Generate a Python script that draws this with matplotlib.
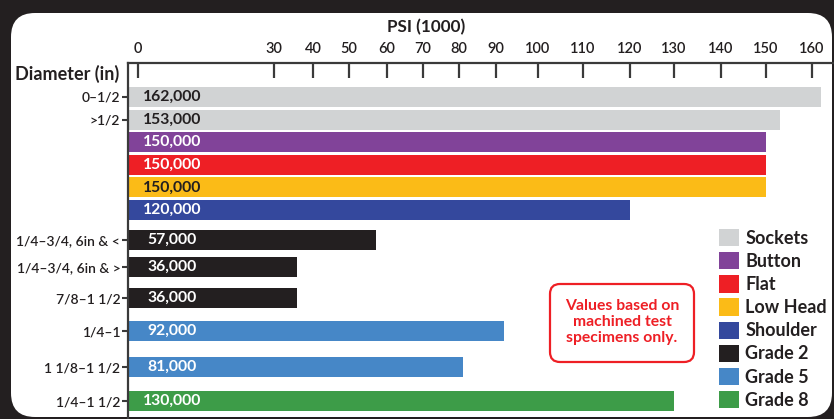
import numpy as np
import matplotlib
matplotlib.use("Agg")
import matplotlib.pyplot as plt
from matplotlib.patches import FancyBboxPatch, Patch
from matplotlib.transforms import IdentityTransform, blended_transform_factory

plt.rcParams['font.family'] = ['Lato', 'DejaVu Sans']

# tensile strength, thousands of psi, one bar per row from top to bottom
diameters = ['0–1/2', '>1/2', '', '', '', '',
             '1/4–3/4, 6in & <', '1/4–3/4, 6in & >', '7/8–1 1/2',
             '1/4–1', '1 1/8–1 1/2', '1/4–1 1/2']
psi_k = [162, 153, 150, 150, 150, 120, 57, 36, 36, 92, 81, 130]
kinds = ['Sockets', 'Sockets', 'Button', 'Flat', 'Low Head', 'Shoulder',
         'Grade 2', 'Grade 2', 'Grade 2', 'Grade 5', 'Grade 5', 'Grade 8']

legend_names = ['Sockets', 'Button', 'Flat', 'Low Head', 'Shoulder',
                'Grade 2', 'Grade 5', 'Grade 8']
colors = {'Sockets': '#d1d3d4', 'Button': '#814399', 'Flat': '#ee1f25',
          'Low Head': '#fbbb17', 'Shoulder': '#34489d', 'Grade 2': '#231f20',
          'Grade 5': '#4687c7', 'Grade 8': '#3d9c48'}
dark_text = {'Sockets', 'Low Head'}

psi_ticks = [0, 30, 40, 50, 60, 70, 80, 90, 100, 110, 120, 130, 140, 150, 160]

# the printed axis is hand-spaced, so the scale is piecewise linear
tick_px = np.array([138, 274, 313, 349, 387, 423, 459, 496, 538, 583,
                    630, 674, 721, 766, 812], float)
tick_val = np.array(psi_ticks, float)


def _pw(v, xs, ys):
    v = np.asarray(v, float)
    out = np.interp(v, xs, ys)
    s0 = (ys[1] - ys[0]) / (xs[1] - xs[0])
    s1 = (ys[-1] - ys[-2]) / (xs[-1] - xs[-2])
    out = np.where(v < xs[0], ys[0] + (v - xs[0]) * s0, out)
    out = np.where(v > xs[-1], ys[-1] + (v - xs[-1]) * s1, out)
    return out


def fwd(v):
    return _pw(v, tick_val, tick_px)


def inv(p):
    return _pw(p, tick_px, tick_val)


# vertical spacing between rows (row units)
row_gaps = [1, 1, 1, 1, 1, 1.33, 1.2, 1.37, 1.46, 1.6, 1.5]
rows = np.concatenate([[0], np.cumsum(row_gaps)])

ink = '#231f20'
W, H = 834, 419
fig = plt.figure(figsize=(W / 100, H / 100), dpi=100, facecolor=ink)

# white card behind everything
card = FancyBboxPatch((11, 2), 821, 404,
                      boxstyle="round,pad=0,rounding_size=24",
                      transform=IdentityTransform(), facecolor='white',
                      edgecolor='none', zorder=-5)
fig.patches.append(card)

ax = fig.add_axes([128 / W, 0, 706 / W, 1 - 63 / H])
ax.set_facecolor('none')
ax.set_xscale('function', functions=(fwd, inv))
x_left = float(inv(128))
ax.set_xlim(x_left, float(inv(834)))
ax.set_ylim(rows[0] + 14.25, rows[0] - 1.5)

for y, v, k in zip(rows, psi_k, kinds):
    ax.barh(y, v - x_left, left=x_left, height=0.885, color=colors[k],
            zorder=2)

lab_tf = blended_transform_factory(ax.transAxes, ax.transData)
for y, v, k in zip(rows, psi_k, kinds):
    ax.text(44 / 706, y, f"{v * 1000:,}", transform=lab_tf, ha='center',
            va='center', fontsize=11.3, fontweight='bold',
            color=ink if k in dark_text else 'white', zorder=3)

# top axis
ax.xaxis.tick_top()
ax.set_xticks(psi_ticks)
ax.set_xticklabels([str(t) for t in psi_ticks])
ax.xaxis.set_minor_locator(plt.NullLocator())
ax.tick_params(axis='x', direction='in', length=11, width=1.6, pad=5,
               labelsize=10.5, color='#3a3a3a', labelcolor=ink)

lab_rows = [y for y, d in zip(rows, diameters) if d]
ax.set_yticks(lab_rows)
ax.set_yticklabels([d for d in diameters if d])
ax.tick_params(axis='y', direction='out', length=4, width=1.5, pad=1.5,
               labelsize=10, color='#3a3a3a', labelcolor=ink)
for t in ax.get_xticklabels() + ax.get_yticklabels():
    t.set_fontweight('semibold')

for side in ['right', 'bottom']:
    ax.spines[side].set_visible(False)
for side in ['top', 'left']:
    ax.spines[side].set_color('#3a3a3a')
    ax.spines[side].set_linewidth(1.6)

fig.text(426 / W, 1 - 27 / H, 'PSI (1000)', ha='center', va='center',
         fontsize=12.3, fontweight='bold', color=ink)
fig.text(15 / W, 1 - 74 / H, 'Diameter (in)', ha='left', va='center',
         fontsize=13, fontweight='bold', color=ink)

handles = [Patch(facecolor=colors[n], edgecolor='none') for n in legend_names]
fig.legend(handles, legend_names, loc='upper left',
           bbox_to_anchor=(719 / W, 1 - 229 / H), frameon=False,
           borderpad=0, borderaxespad=0,
           prop={'weight': 'bold', 'size': 13},
           handlelength=1.1, handleheight=1.1, handletextpad=0.35,
           labelspacing=0.295, labelcolor=ink)

# note box
note = FancyBboxPatch((550, H - 362), 144, 78,
                      boxstyle="round,pad=0,rounding_size=10",
                      transform=IdentityTransform(), facecolor='white',
                      edgecolor='#ee1f25', linewidth=1.6, zorder=5)
fig.patches.append(note)
fig.text(622 / W, 1 - 322 / H, 'Values based on\nmachined test\nspecimens only.',
         ha='center', va='center', fontsize=11.3, fontweight='bold',
         color='#ee1f25', linespacing=1.2, zorder=6)

fig.savefig('out.png', dpi=100, facecolor=ink)
